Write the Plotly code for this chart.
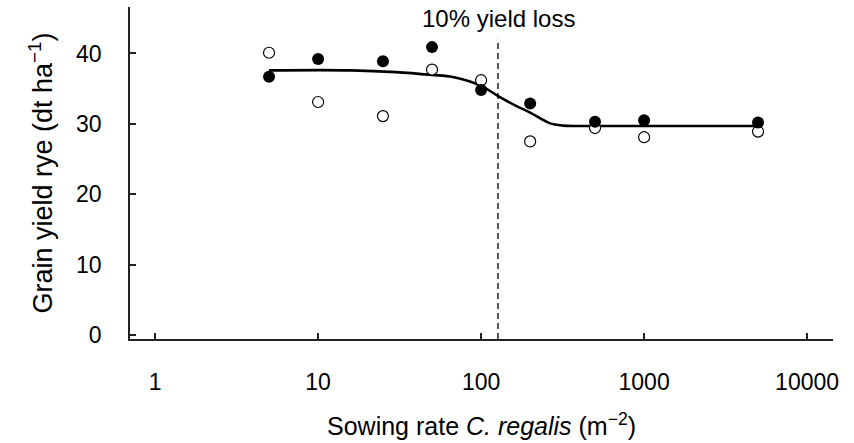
import numpy as np
import plotly.graph_objects as go

# ---- data ----
sowing_rate = [5, 10, 25, 50, 100, 200, 500, 1000, 5000]
yield_filled = [36.7, 39.2, 38.9, 40.9, 34.8, 32.9, 30.3, 30.5, 30.2]
yield_open = [40.1, 33.1, 31.1, 37.7, 36.2, 27.5, 29.4, 28.1, 28.9]

curve_x = [5, 16, 30, 50, 67, 100, 128, 164, 200, 263, 320, 400, 5000]
curve_y = [37.6, 37.6, 37.35, 36.95, 36.65, 35.4, 33.9, 32.55, 31.6, 30.1, 29.75, 29.7, 29.7]

loss_threshold = 127
loss_line_y = [-0.57, 42.1]
loss_label = "10% yield loss"

x_ticks = [1, 10, 100, 1000, 10000]
x_ticktext = ["1", "10", "100", "1000", "10000"]
y_ticks = [0, 10, 20, 30, 40]

FONT = "Liberation Sans, Arial, sans-serif"
AXC = "#222222"

fig = go.Figure()

fig.add_trace(go.Scatter(
    x=[loss_threshold, loss_threshold], y=loss_line_y, mode="lines",
    line=dict(color="#222222", width=1.5, dash="6px,4px"),
    showlegend=False, hoverinfo="skip"))

fig.add_trace(go.Scatter(
    x=curve_x, y=curve_y, mode="lines",
    line=dict(color="black", width=2.6, shape="spline", smoothing=1.0),
    showlegend=False))

fig.add_trace(go.Scatter(
    x=sowing_rate, y=yield_open, mode="markers",
    marker=dict(symbol="circle", size=11, color="white",
                line=dict(color="black", width=1.2)),
    showlegend=False))

fig.add_trace(go.Scatter(
    x=sowing_rate, y=yield_filled, mode="markers",
    marker=dict(symbol="circle", size=12, color="black",
                line=dict(color="black", width=0)),
    showlegend=False))

fig.add_annotation(
    x=np.log10(loss_threshold), y=45.0, xref="x", yref="y",
    text=loss_label, showarrow=False,
    font=dict(family=FONT, size=24, color="black"),
    xanchor="center", yanchor="middle")

fig.update_xaxes(
    type="log", range=[-0.154, 4.159],
    tickvals=x_ticks, ticktext=x_ticktext,
    ticks="inside", ticklen=6, tickwidth=1.5, tickcolor=AXC,
    showline=True, linecolor=AXC, linewidth=1.8,
    showgrid=False, zeroline=False,
    tickfont=dict(family=FONT, size=23, color="black"),
    ticklabelstandoff=21,
    title=dict(text="Sowing rate <i>C. regalis</i> (m<sup>−2</sup>)",
               font=dict(family=FONT, size=25, color="black"),
               standoff=24),
)

fig.update_yaxes(
    range=[-0.57, 46.6],
    tickvals=y_ticks,
    ticks="inside", ticklen=6, tickwidth=1.5, tickcolor=AXC,
    showline=True, linecolor=AXC, linewidth=1.8,
    showgrid=False, zeroline=False,
    tickfont=dict(family=FONT, size=23, color="black"),
    ticklabelstandoff=22,
    title=dict(text="Grain yield rye (dt ha<sup>−1</sup>)",
               font=dict(family=FONT, size=27, color="black"),
               standoff=15),
)

fig.update_layout(
    width=854, height=443,
    margin=dict(l=130, r=21, t=7, b=104, pad=0),
    paper_bgcolor="white", plot_bgcolor="white",
    showlegend=False,
    font=dict(family=FONT, color="black"),
)

fig.write_html("out.html")
